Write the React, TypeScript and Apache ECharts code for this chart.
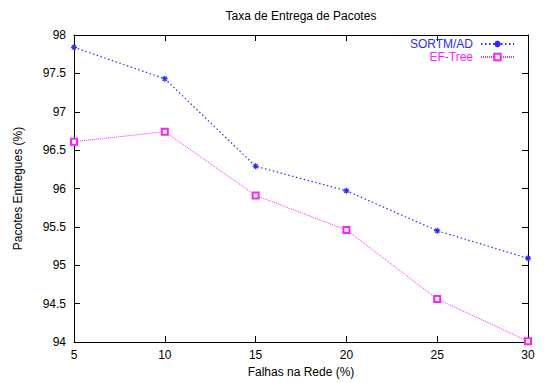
import React, { useEffect, useRef } from "react";
import * as echarts from "echarts";

const failures = [5, 10, 15, 20, 25, 30];
const sortmAd = [97.84, 97.43, 96.29, 95.97, 95.45, 95.09];
const efTree = [96.61, 96.74, 95.91, 95.46, 94.56, 94.01];
const seriesNames = ["SORTM/AD", "EF-Tree"];
const BLUE = "#2a2aff";
const MAGENTA = "#ff20ff";
const FONT = "Liberation Sans, Arial, sans-serif";

const asterisk = "path://M0,5 L10,5 M5,0 L5,10 M1.5,1.5 L8.5,8.5 M8.5,1.5 L1.5,8.5";

export default function App() {
  const ref = useRef<HTMLDivElement>(null);
  useEffect(() => {
    const chart = echarts.init(ref.current!, null, { renderer: "svg" });
    const axisLine = { show: true, lineStyle: { color: "#000", width: 1 } };
    const tick = { show: true, inside: true, length: 6, lineStyle: { color: "#000" } };
    chart.setOption({
      animation: false,
      backgroundColor: "#fff",
      textStyle: { fontFamily: FONT },
      title: {
        text: "Taxa de Entrega de Pacotes",
        left: 301,
        textAlign: "center",
        top: 10,
        padding: 0,
        textStyle: { fontSize: 12, fontWeight: "normal", color: "#000", fontFamily: FONT },
      },
      legend: {
        orient: "vertical",
        right: 29,
        top: 38,
        padding: 0,
        align: "right",
        itemWidth: 33,
        itemHeight: 8,
        itemGap: 1,
        data: [
          { name: seriesNames[0], textStyle: { color: BLUE } },
          { name: seriesNames[1], textStyle: { color: MAGENTA } },
        ],
        textStyle: { fontSize: 12, lineHeight: 12, fontFamily: FONT, padding: [0, 3, 0, 0] },
      },
      grid: { left: 74, right: 16, top: 35, bottom: 40, containLabel: false },
      xAxis: [
        {
          type: "value",
          min: 5,
          max: 30,
          interval: 5,
          name: "Falhas na Rede (%)",
          nameLocation: "middle",
          nameGap: 24,
          nameTextStyle: { fontSize: 12, color: "#000", fontFamily: FONT },
          axisLine,
          axisTick: tick,
          axisLabel: { fontSize: 12, color: "#000", margin: 7, fontFamily: FONT },
          splitLine: { show: false },
        },
        {
          type: "value",
          position: "top",
          min: 5,
          max: 30,
          interval: 5,
          axisLine,
          axisTick: tick,
          axisLabel: { show: false },
          splitLine: { show: false },
        },
      ],
      yAxis: [
        {
          type: "value",
          min: 94,
          max: 98,
          interval: 0.5,
          name: "Pacotes Entregues (%)",
          nameLocation: "middle",
          nameGap: 50,
          nameTextStyle: { fontSize: 12, color: "#000", fontFamily: FONT },
          axisLine,
          axisTick: tick,
          axisLabel: { fontSize: 12, color: "#000", margin: 8, fontFamily: FONT },
          splitLine: { show: false },
        },
        {
          type: "value",
          position: "right",
          min: 94,
          max: 98,
          interval: 0.5,
          axisLine,
          axisTick: tick,
          axisLabel: { show: false },
          splitLine: { show: false },
        },
      ],
      series: [
        {
          name: seriesNames[0],
          type: "line",
          data: failures.map((x, i) => [x, sortmAd[i]]),
          symbol: asterisk,
          symbolSize: 6,
          color: BLUE,
          itemStyle: { color: BLUE, borderColor: BLUE, borderWidth: 1.2 },
          lineStyle: { color: BLUE, width: 1.2, type: [1.5, 2.5] },
        },
        {
          name: seriesNames[1],
          type: "line",
          data: failures.map((x, i) => [x, efTree[i]]),
          symbol: "emptyRect",
          symbolSize: 6,
          color: MAGENTA,
          itemStyle: { color: MAGENTA, borderColor: MAGENTA, borderWidth: 1 },
          lineStyle: { color: MAGENTA, width: 1, type: [1, 1] },
        },
      ],
    });
    return () => chart.dispose();
  }, []);
  return (
    <div
      ref={ref}
      style={{ position: "absolute", left: 0, top: 0, width: 544, height: 383 }}
    />
  );
}
